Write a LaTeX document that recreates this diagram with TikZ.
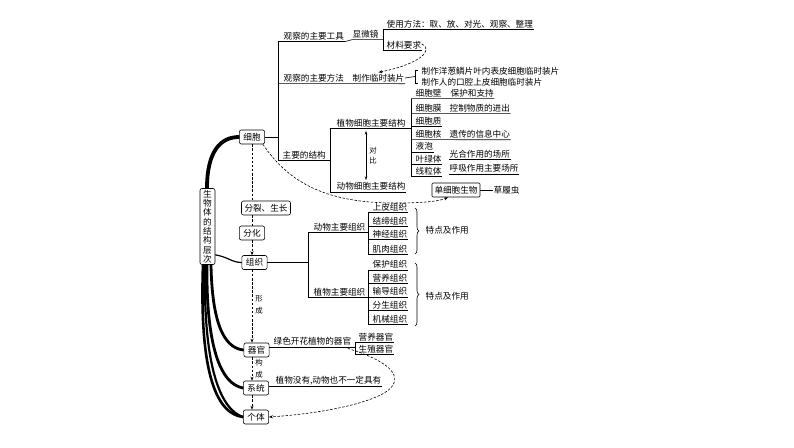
\documentclass[tikz,border=0pt]{standalone}
\usepackage{fontspec}
\setmainfont{Noto Sans CJK SC}
\usetikzlibrary{arrows.meta,decorations.pathreplacing,calc}
\pgfdeclarelayer{back}
\pgfdeclarelayer{bg}
\pgfsetlayers{back,bg,main}
\begin{document}
\begin{tikzpicture}[x=1pt,y=-1pt,
  font=\fontsize{8.6}{10}\selectfont,
  lbl/.style={anchor=west,inner xsep=0.5pt,inner ysep=1.5pt},
  box/.style={draw,rounded corners=2pt,fill=white,inner xsep=4pt,inner ysep=0pt,minimum height=14pt,line width=0.6pt},
  ln/.style={line width=0.6pt},
  dsh/.style={line width=0.6pt,dash pattern=on 2.5pt off 1.6pt},
  arr/.style={-{Stealth[length=4pt,width=3pt]}},
  small/.style={font=\fontsize{7.4}{12}\selectfont,inner sep=0pt,align=center},
  thick1/.style={line width=#1,line cap=round}
]
\begin{pgfonlayer}{back}
\fill[white] (0,0) rectangle (794,447);
\end{pgfonlayer}
\useasboundingbox (0,0) rectangle (794,447);

% ---- main column boxes
\node[box,minimum width=15pt,inner xsep=0pt,inner ysep=1.5pt,align=center,font=\fontsize{8.6}{9.3}\selectfont] (root) at (207.5,226.5) {生\\物\\体\\的\\结\\构\\层\\次};
\node[box] (cell) at (252,137) {细胞};
\node[box,inner xsep=3pt] (fenlie) at (266,208) {分裂、生长};
\node[box] (fenhua) at (252,233) {分化};
\node[box] (zuzhi) at (254.5,262.5) {组织};
\node[box] (qiguan) at (256.5,350) {器官};
\node[box] (xitong) at (256,388) {系统};
\node[box] (geti) at (256,417) {个体};
\node[small] (xc) at (259,304.5) {形\\成};
\node[small] (gc) at (259,368.5) {构\\成};

\begin{pgfonlayer}{bg}
% thick curves
\draw[thick1=3.8pt] ($(root.north)+(-0.5,0)$) .. controls (207,152) and (220,137) .. (cell.west);
\draw[thick1=1.2pt] ($(root.south east)+(0,-10)$) .. controls (228,257) and (232,262.5) .. (zuzhi.west);
\draw[thick1=2.8pt] ($(root.south)+(3.5,0)$) .. controls (212,318) and (222,348) .. (qiguan.west);
\draw[thick1=2.8pt] ($(root.south)+(-0.5,0)$) .. controls (206,345) and (220,384) .. (xitong.west);
\draw[thick1=2.6pt] ($(root.south)+(-4.5,0)$) .. controls (199,378) and (218,414) .. (geti.west);
\draw[thick1=2.2pt] ($(root.south)+(-2.5,0)$) .. controls (203,372) and (222,410) .. (geti.west);
\end{pgfonlayer}

% dashed column
\draw[dsh] (cell.south) -- (cell.south |- fenlie.north);
\draw[dsh] (cell.south |- fenlie.south) -- (fenhua.north);
\draw[dsh,arr] (fenhua.south) -- (fenhua.south |- zuzhi.north);
\draw[dsh,arr] (fenhua.south |- zuzhi.south) -- (fenhua.south |- qiguan.north);
\draw[dsh,arr] (fenhua.south |- qiguan.south) -- (fenhua.south |- xitong.north);
\draw[dsh,arr] (fenhua.south |- xitong.south) -- (fenhua.south |- geti.north);

% ---- upper tree
\coordinate (trx) at (278,0);
\coordinate (br1) at (383,0);
\coordinate (v2) at (330,0);
\coordinate (lb) at (411,0);

\node[lbl] (tool) at (283,36) {观察的主要工具};
\node[lbl] (xwj) at (352,34) {显微镜};
\node[lbl] (use) at (386,24) {使用方法：取、放、对光、观察、整理};
\node[lbl] (mat) at (386,45) {材料要求};
\node[lbl] (method) at (283,78) {观察的主要方法};
\node[lbl] (zz) at (352,78) {制作临时装片};
\node[lbl] (p1) at (421,71) {制作洋葱鳞片叶内表皮细胞临时装片};
\node[lbl] (p2) at (421,82) {制作人的口腔上皮细胞临时装片};
\node[lbl] (struct) at (282,155) {主要的结构};
\node[lbl] (plant) at (336,123) {植物细胞主要结构};
\node[lbl] (animal) at (336,186.5) {动物细胞主要结构};

\draw[ln] (tool.south east) -- (tool.south west -| trx) -- (struct.south west -| trx) -- (struct.south west -| v2);
\draw[ln] (cell.east) -- (cell.east -| trx);
\draw[ln] (tool.south east) -- (xwj.south west) -- (xwj.south east -| br1);
\draw[ln] (use.south east) -- (use.south west -| br1) -- (mat.south west -| br1) -- (mat.south east);
\draw[dsh,arr] ($(mat.east)+(0,-1)$) .. controls (434,50) and (420,64) .. (zz.north);
\draw[ln] (method.south west -| trx) -- (zz.south east);
\draw[ln] (zz.east) -- ($(p1.west)!0.5!(p2.west)+(-6,0)$);
\draw[ln] ($(p1.west)+(-3,-1)$) -- ($(p1.west)+(-6,-1)$) -- ($(p2.west)+(-6,1)$) -- ($(p2.west)+(-3,1)$);

\draw[ln] (plant.south west -| lb) -- (plant.south west -| v2) -- (animal.south west -| v2) -- (animal.south east);
\coordinate (db1) at (366,131);
\coordinate (db2) at (366,180);
\draw[ln,{Stealth[length=3.5pt,width=2.6pt]}-{Stealth[length=3.5pt,width=2.6pt]}] (db1) -- (db2);
\node[small,font=\fontsize{7.4}{10}\selectfont] (duibi) at (373,156) {对\\比};

% cell parts
\node[lbl] (c1) at (415,93) {细胞壁};
\node[lbl] (c2) at (415,108) {细胞膜};
\node[lbl] (c3) at (415,121) {细胞质};
\node[lbl] (c4) at (415,134) {细胞核};
\node[lbl] (c5) at (415,146.5) {液泡};
\node[lbl] (c6) at (415,159) {叶绿体};
\node[lbl] (c7) at (415,171) {线粒体};
\node[lbl] (f1) at (450,93) {保护和支持};
\node[lbl] (f2) at (449,108) {控制物质的进出};
\node[lbl] (f4) at (449,134) {遗传的信息中心};
\node[lbl] (f6) at (449,154) {光合作用的场所};
\node[lbl] (f7) at (449,168.5) {呼吸作用主要场所};

\draw[ln] (c1.south west -| lb) -- (c7.south west -| lb);
\draw[ln] (c1.south west -| lb) -- (f1.south east);
\draw[ln] (c2.south west -| lb) -- (f2.south east);
\draw[ln] (c3.south west -| lb) -- (c3.south east);
\draw[ln] (c4.south west -| lb) -- (f4.south east);
\draw[ln] (c5.south west -| lb) -- (c5.south east);
\draw[ln] (c6.south west -| lb) -- (c6.south east);
\draw[ln] (c7.south west -| lb) -- (c7.south east);
\draw[ln] (f6.south west) -- (f6.south east);
\draw[ln] (f7.south west) -- (f7.south east);

% unicellular
\node[box,rounded corners=1pt,inner xsep=2.5pt,minimum height=14pt] (dan) at (456,190) {单细胞生物};
\node[lbl] (clc) at (493,190) {草履虫};
\draw[ln] (dan.east) -- (clc.west);
\draw[dsh,arr] ($(cell.south east)+(-2,0)$) .. controls (290,185) and (330,203) .. (395,203) .. controls (425,203) and (440,201) .. ($(dan.south)+(-8,0)$);

% ---- tissues
\coordinate (v3) at (308,0);
\coordinate (lb2) at (368,0);
\node[lbl] (atis) at (313,227) {动物主要组织};
\node[lbl] (ptis) at (313,292) {植物主要组织};
\draw[ln] (zuzhi.east) -- (zuzhi.east -| v3);
\draw[ln] (atis.south west -| lb2) -- (atis.south west -| v3) -- (ptis.south west -| v3) -- (ptis.south west -| lb2);

\node[lbl] (a1) at (372,207) {上皮组织};
\node[lbl] (a2) at (372,221) {结缔组织};
\node[lbl] (a3) at (372,234) {神经组织};
\node[lbl] (a4) at (372,249) {肌肉组织};
\draw[ln] (a1.south west -| lb2) -- (a4.south west -| lb2);
\foreach \n in {a1,a2,a3,a4} \draw[ln] (\n.south west -| lb2) -- (\n.south east);

\node[lbl] (b1) at (372,264.5) {保护组织};
\node[lbl] (b2) at (372,278) {营养组织};
\node[lbl] (b3) at (372,291.5) {输导组织};
\node[lbl] (b4) at (372,305) {分生组织};
\node[lbl] (b5) at (372,319) {机械组织};
\draw[ln] (b1.south west -| lb2) -- (b5.south west -| lb2);
\foreach \n in {b1,b2,b3,b4,b5} \draw[ln] (\n.south west -| lb2) -- (\n.south east);

\coordinate (bra) at (415,208);
\coordinate (brb) at (415,254);
\coordinate (brc) at (415,263);
\coordinate (brd) at (415,326);
\draw[ln,decorate,decoration={brace,amplitude=4pt}] (bra) -- (brb);
\draw[ln,decorate,decoration={brace,amplitude=4pt}] (brc) -- (brd);
\node[lbl] (t1) at (425,230) {特点及作用};
\node[lbl] (t2) at (425,296) {特点及作用};

% ---- organs
\coordinate (lb3) at (355,0);
\node[lbl] (lvse) at (273,341.5) {绿色开花植物的器官};
\node[lbl] (yy) at (358,337) {营养器官};
\node[lbl] (sz) at (358,349) {生殖器官};
\draw[ln] (qiguan.east |- lvse.south) -- (lvse.south -| lb3);
\draw[ln] (yy.south east) -- (yy.south west -| lb3) -- (sz.south west -| lb3) -- (sz.south east);
\draw[dsh,arr] ($(lvse.south east)+(-8,0)$) .. controls (380,358) and (401,371) .. (393,385) .. controls (385,400) and (330,413) .. (geti.east);

% ---- systems
\node[lbl] (zwmy) at (275,380.5) {植物没有,动物也不一定具有};
\draw[ln] (xitong.east |- zwmy.south) -- (zwmy.south east);
\end{tikzpicture}
\end{document}
